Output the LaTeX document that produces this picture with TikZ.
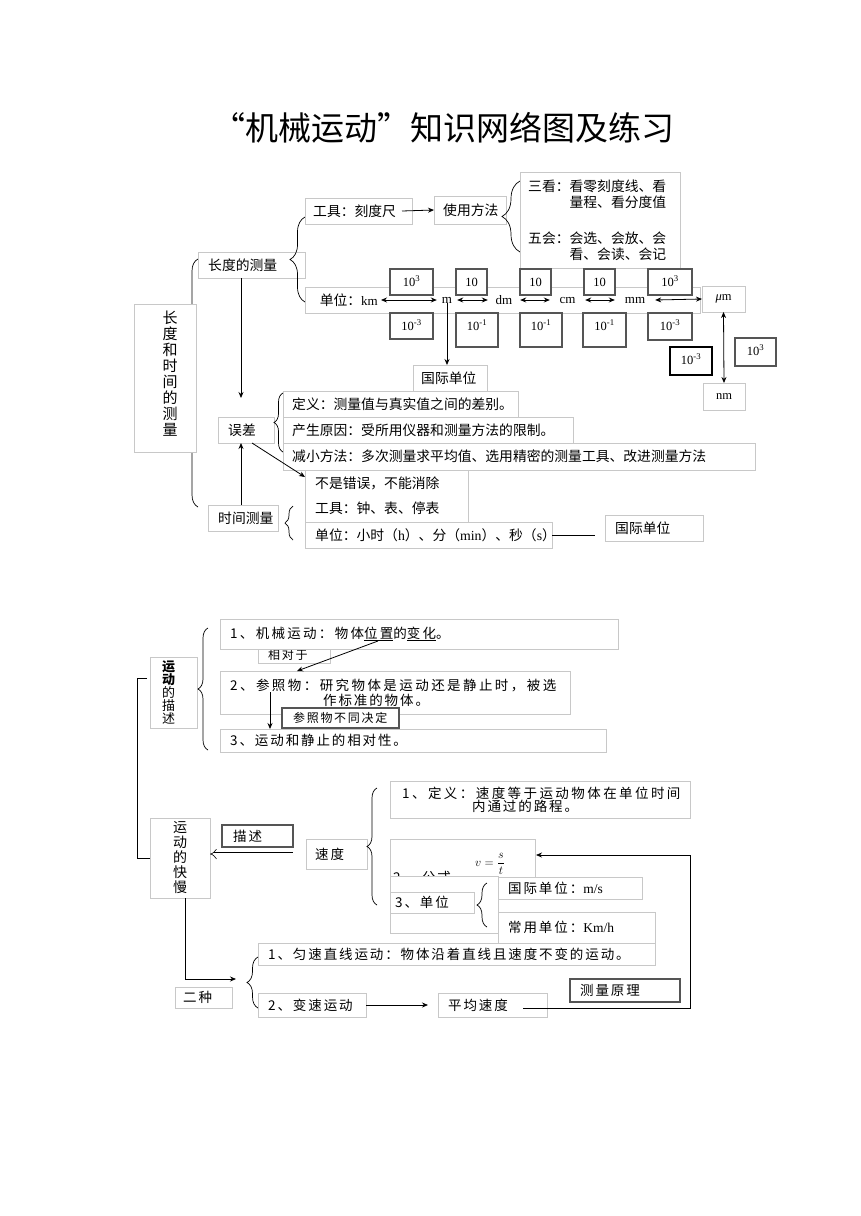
\documentclass[tikz,border=0pt]{standalone}
\usepackage{fontspec}
\setmainfont{Liberation Serif}
\newfontfamily\cjk{Noto Sans CJK SC}
\newfontfamily\cjkb{Noto Sans CJK SC}[LetterSpace=14]
\usetikzlibrary{arrows.meta,decorations.pathreplacing,calc}
\definecolor{lg}{RGB}{200,200,200}
\definecolor{dg}{RGB}{85,85,85}
\newcommand\lat[1]{{\rmfamily #1}}
\newcommand\bx[9]{%
  \node[#1, minimum width=#5pt, minimum height=#6pt] (#2) at (#3,#4) {};
  \node[#9, anchor=west, inner sep=0pt] (#2t) at ([xshift=#7pt]#2.west) {#8};}
\tikzset{
  lbox/.style={draw=lg, line width=0.8pt, fill=white, anchor=north west, inner sep=0pt, outer sep=0pt},
  dbox/.style={draw=dg, line width=1.1pt, fill=white, anchor=north west, inner sep=0pt, outer sep=0pt},
  ct/.style={font=\cjk\fontsize{13.8}{16}\selectfont},
  bt/.style={font=\cjkb\fontsize{13.5}{15}\selectfont},
  st/.style={font=\cjkb\fontsize{12}{13}\selectfont},
  num/.style={dbox, font=\fontsize{12.5}{14}\selectfont, text height=17pt, text depth=9pt},
  ul/.style={inner sep=0pt, font=\fontsize{13}{14}\selectfont},
  arr/.style={-{Stealth[length=6pt,width=5pt]}, line width=0.8pt},
  darr/.style={{Stealth[length=6pt,width=5pt]}-{Stealth[length=6pt,width=5pt]}, line width=0.8pt},
  brc/.style={decorate, decoration={brace, amplitude=#1}, line width=0.7pt},
}
\begin{document}
\begin{tikzpicture}[x=1pt,y=-1pt]
\useasboundingbox[fill=white] (0,0) rectangle (860,1216);

% title
\node[font=\cjk\fontsize{33}{36}\selectfont, inner sep=0pt] (title) at (443,128) {“机械运动”知识网络图及练习};

% ================= top part =================
\draw[brc=12pt] (198,507) -- (198,259);
\node[lbox, minimum width=62pt, minimum height=148pt] (L0) at (134,304) {};
\node[font=\cjk\fontsize{15}{16}\selectfont, align=center, inner sep=0pt] (L0t) at (170,374) {长\\度\\和\\时\\间\\的\\测\\量};

\bx{lbox}{len}{198}{252}{107}{26}{10}{长度的测量}{ct}
\draw[brc=15pt] (305,302) -- (305,217);
\bx{lbox}{tool}{305}{198}{107}{26}{8}{工具：刻度尺}{ct}
\bx{lbox}{use}{434}{196}{72}{28}{9}{使用方法}{ct}
\draw[arr] ([xshift=-10pt]tool.east) -- (use.west);
\draw[brc=18pt] (520,252) -- (520,181);
\bx{lbox}{kan}{520}{172}{160}{96}{8}{三看：看零刻度线、看\\\hspace*{3em}量程、看分度值\\[20pt]五会：会选、会放、会\\\hspace*{3em}看、会读、会记}{ct, align=left}

% unit row
\node[lbox, minimum width=395pt, minimum height=26pt] (row) at (305,287) {};
\node[num, minimum width=43pt] (u1) at (390,269) {10\textsuperscript{3}};
\node[num, minimum width=31pt] (u2) at (456,269) {10};
\node[num, minimum width=31pt] (u3) at (520,269) {10};
\node[num, minimum width=31pt] (u4) at (584,269) {10};
\node[num, minimum width=44pt] (u5) at (648,269) {10\textsuperscript{3}};
\node[num, minimum width=43pt] (d1) at (390,313) {10\textsuperscript{-3}};
\node[num, minimum width=42pt, text depth=17pt] (d2) at (456,313) {10\textsuperscript{-1}};
\node[num, minimum width=42pt, text depth=17pt] (d3) at (520,313) {10\textsuperscript{-1}};
\node[num, minimum width=43pt, text depth=17pt] (d4) at (583,313) {10\textsuperscript{-1}};
\node[num, minimum width=44pt, text depth=10pt] (d5) at (648,313) {10\textsuperscript{-3}};
\node[num, draw=black, minimum width=42pt, text depth=11pt] (e1) at (670,347) {10\textsuperscript{-3}};
\node[num, minimum width=41pt, text depth=11pt] (e2) at (735,338) {10\textsuperscript{3}};

\node[ul, anchor=east, inner xsep=3pt] (km) at (381,300) {{\cjk\fontsize{13.8}{16}\selectfont 单位：}km};
\node[ul, minimum width=20pt] (m) at (447,300) {m};
\node[ul, minimum width=32pt] (dm) at (504,300) {dm};
\node[ul, minimum width=35pt] (cm) at (567.5,300) {cm};
\node[ul, minimum width=40pt] (mm) at (635,300) {mm};
\node[lbox, minimum width=43pt, minimum height=26pt, font=\fontsize{12.5}{14}\selectfont] (um) at (702,286) {\textit{μ}m};
\node[lbox, minimum width=42pt, minimum height=27pt, font=\fontsize{12.5}{14}\selectfont] (nm) at (703,383) {nm};
\draw[darr] (km.east) -- (m.west);
\draw[darr] (m.east) -- (dm.west);
\draw[darr] (dm.east) -- (cm.west);
\draw[darr] (cm.east) -- (mm.west);
\draw[darr] (mm.east) -- (um.west);
\draw[darr] (um.south) -- (nm.north);

\bx{lbox}{gj1}{413}{365}{74}{26}{8}{国际单位}{ct}
\draw[arr] (m.south) -- (m.south |- gj1.north);

% error
\bx{lbox}{wc}{218}{417}{56}{26}{10}{误差}{ct}
\draw[brc=9pt] (283,452) -- (283,393);
\bx{lbox}{def1}{283}{391}{235}{26}{9}{定义：测量值与真实值之间的差别。}{ct}
\bx{lbox}{def2}{283}{417}{290}{26}{9}{产生原因：受所用仪器和测量方法的限制。}{ct}
\bx{lbox}{def3}{283}{443}{472}{27}{9}{减小方法：多次测量求平均值、选用精密的测量工具、改进测量方法}{ct}
\bx{lbox}{nb}{305}{470}{163}{52}{10}{不是错误，不能消除\\[9pt]工具：钟、表、停表}{ct, align=left}
\bx{lbox}{tm}{305}{522}{247}{26}{10}{单位：小时（\lat{h}）、分（\lat{min}）、秒（\lat{s}）}{ct}
\bx{lbox}{sj}{208}{505}{70}{26}{10}{时间测量}{ct}
\draw[brc=8pt] (293,540) -- (293,506);
\bx{lbox}{gj2}{605}{515}{98}{26}{10}{国际单位}{ct}

\coordinate (ax) at (241,0);
\draw[arr, shorten >=19pt] (len.south -| ax) -- (wc.north -| ax);
\draw[arr] (sj.north -| ax) -- (wc.south -| ax);
\draw[arr] ([xshift=6pt]wc.south) -- ([yshift=-7pt]nb.north west);
\draw[line width=0.8pt, shorten >=10pt] (tm.east) -- (tm.east -| gj2.west);

% ================= bottom part =================
\node[lbox, minimum width=47pt, minimum height=71pt] (b1) at (150,657) {};
\node[font=\cjk\fontsize{13}{13}\selectfont, align=center, inner sep=0pt] (b1t) at (168.5,692.5) {{\bfseries 运}\\{\bfseries 动}\\的\\描\\述};
\draw[brc=10pt] (208,750) -- (208,628);

\bx{lbox}{xd}{258}{647}{72}{16}{10}{相对于}{st}
\bx{lbox}{m1}{220}{619}{398}{30}{10}{\addfontfeature{LetterSpace=17}1、机械运动：物体\underline{位置}的\underline{变化}。}{bt}
\bx{lbox}{m2}{220}{671}{350}{43}{10}{\addfontfeature{LetterSpace=18}2、参照物：研究物体是运动还是静止时，被选\\\hspace*{93pt}作标准的物体。}{bt, align=left}
\bx{dbox}{ck}{282}{708}{117}{20}{11}{参照物不同决定}{st}
\bx{lbox}{m3}{220}{729}{386}{23}{10}{3、运动和静止的相对性。}{bt}
\coordinate (wz) at (378,641);
\coordinate (wzt) at (297,671);
\draw[arr] (wz) -- (wzt);
\coordinate (c2) at (270,692);
\draw[arr] (c2) -- (c2 |- m3.north);

\node[lbox, minimum width=60pt, minimum height=80pt] (b2) at (150,818) {};
\node[font=\cjk\fontsize{14}{15}\selectfont, align=center, inner sep=0pt] (b2t) at (180,858) {运\\动\\的\\快\\慢};
\coordinate (bk) at (147,678);
\draw[line width=0.8pt] (bk) -- ++(-10,0) |- (b2.west);

\bx{dbox}{ms}{222}{825}{71}{22}{11}{描述}{bt}
\bx{lbox}{sd}{306}{839}{61}{30}{9}{速度}{bt}
\draw[double, double distance=3pt, line width=0.6pt, -{Implies}, shorten <=13pt] (sd.west) -- (b2.east |- sd.west);
\draw[brc=10pt] (377,905) -- (377,788);
\bx{lbox}{s1}{390}{781}{300}{37}{12}{\addfontfeature{LetterSpace=18}1、定义：速度等于运动物体在单位时间\\[-2pt]\hspace*{70pt}内通过的路程。}{bt, align=left}
\node[lbox, minimum width=145pt, minimum height=40pt] (s2) at (390,839) {};
\node[inner sep=0pt, font=\fontsize{12}{14}\selectfont] (fm) at (490,864) {$v=\displaystyle\frac{s}{t}$};
\node[bt, anchor=west, inner sep=0pt] (s2t) at (393,877) {2、\hspace{6pt}公式};
\node[lbox, minimum width=108pt, minimum height=57pt] (cv) at (390,876) {};
\bx{lbox}{s3}{390}{892}{84}{21}{5}{3、单位}{bt}
\draw[brc=10pt] (487,927) -- (487,883);
\bx{lbox}{gjm}{498}{877}{144}{22}{10}{国际单位：\lat{m/s}}{bt}
\bx{lbox}{cy}{498}{912}{157}{31}{10}{常用单位：\lat{Km/h}}{bt}
\bx{lbox}{ys}{258}{943}{397}{22}{10}{1、匀速直线运动：物体沿着直线且速度不变的运动。}{bt}
\bx{lbox}{ez}{175}{987}{57}{21}{8}{二种}{bt}
\draw[brc=11pt] (258,1008) -- (258,957);
\bx{lbox}{bs}{258}{993}{108}{24}{10}{2、变速运动}{bt}
\bx{lbox}{pj}{438}{993}{109}{24}{10}{平均速度}{bt}
\bx{dbox}{cl}{570}{979}{110}{23}{10}{测量原理}{bt}
\draw[arr, shorten >=10pt] (bs.east) -- (pj.west);
\coordinate (pjo) at (523,1008);
\coordinate (lp) at (690,1008);
\coordinate (s2in) at (536,855);
\draw[arr] (pjo) -- (lp) |- (s2in);
\coordinate (ezt) at (236,979);
\draw[arr] ([xshift=5pt]b2.south) |- (ezt);
\end{tikzpicture}
\end{document}
